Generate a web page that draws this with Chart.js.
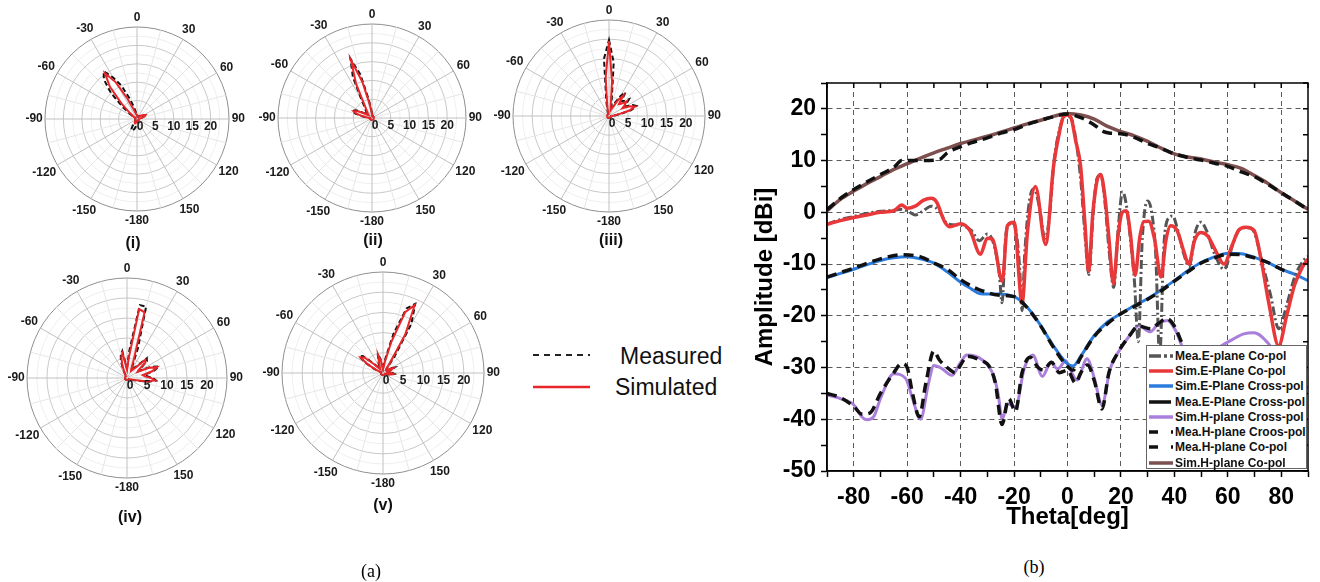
<!DOCTYPE html>
<html><head><meta charset="utf-8">
<script src="https://cdn.jsdelivr.net/npm/chart.js@4.4.1/dist/chart.umd.min.js"></script>
<style>
body{margin:0;width:1320px;height:582px;background:#fff;position:relative;overflow:hidden;font-family:"Liberation Sans",Arial,sans-serif}
canvas{position:absolute}
.lbl{position:absolute;font-weight:bold;font-size:16px;transform:translate(-50%,-50%);white-space:nowrap;color:#111}
.cap{position:absolute;font-family:"Liberation Serif","Times New Roman",serif;font-size:18px;transform:translate(-50%,-50%)}
.leg{position:absolute;font-size:23px;color:#111;transform:translateY(-50%);white-space:nowrap}
#legB{position:absolute;left:1146px;top:345px;width:161px;height:124px;border:1px solid #666;background:#fff;padding-top:2px;box-sizing:border-box}
#legB .row{height:15.3px;display:flex;align-items:center;font-weight:bold;font-size:12px;color:#111;white-space:nowrap}
#legB svg{flex:none;margin-left:1px;margin-right:1px}
</style></head>
<body>
<canvas id="p1"></canvas><canvas id="p2"></canvas><canvas id="p3"></canvas><canvas id="p4"></canvas><canvas id="p5"></canvas>
<canvas id="cb" width="580" height="480" style="left:740px;top:60px;width:580px;height:480px"></canvas>
<div class="lbl" style="left:133px;top:243px">(i)</div>
<div class="lbl" style="left:373px;top:240px">(ii)</div>
<div class="lbl" style="left:611px;top:240px">(iii)</div>
<div class="lbl" style="left:130px;top:517px">(iv)</div>
<div class="lbl" style="left:383px;top:505px">(v)</div>
<svg style="position:absolute;left:528px;top:340px" width="70" height="60"><line x1="5" y1="15" x2="62" y2="15" stroke="#222" stroke-width="2" stroke-dasharray="6,5"/><line x1="5" y1="47" x2="62" y2="47" stroke="#e8262a" stroke-width="2.5"/></svg>
<div class="leg" style="left:620px;top:356px">Measured</div>
<div class="leg" style="left:615px;top:387px">Simulated</div>
<div class="cap" style="left:371px;top:571px">(a)</div>
<div class="cap" style="left:1034px;top:567px">(b)</div>
<div id="legB"></div>
<script>
// ---------- Polar pattern data (angle labels 0..180, -175..-5) ----------
const polarAngles = [0,5,10,15,20,25,30,35,40,45,50,55,60,65,70,75,80,85,90,95,100,105,110,115,120,125,130,135,140,145,150,155,160,165,170,175,180,
  -175,-170,-165,-160,-155,-150,-145,-140,-135,-130,-125,-120,-115,-110,-105,-100,-95,-90,-85,-80,-75,-70,-65,-60,-55,-50,-45,-40,-35,-30,-25,-20,-15,-10,-5];
const angleTickLabels = [0,30,60,90,120,150,-180,-150,-120,-90,-60,-30];
const radialTickLabels = [0,5,10,15,20];

const simI = [1,0.8,0.7,0.7,0.7,0.7,0.8,0.9,1,1.2,1.5,1.8,2.2,2.6,2.3,1.5,0.9,0.6,0.5,0.5,0.5,0.5,0.5,0.5,0.5,0.5,0.5,0.5,0.5,0.5,0.5,0.5,0.5,0.5,0.5,0.5,0.5,
  0.6,0.8,1,1.2,1.3,1.2,0.9,0.6,0.5,0.5,0.5,0.5,0.5,0.5,0.5,0.5,0.5,0.5,0.5,0.5,0.5,0.5,0.5,0.5,1,2.5,6,11.5,15.2,11.5,6,3,1.8,1.3,1.1];
const meaI = [1.2,1,0.8,0.7,0.7,0.7,0.8,0.9,1,1.2,1.5,1.8,2,2.2,2,1.4,0.9,0.6,0.5,0.5,0.5,0.5,0.5,0.5,0.5,0.5,0.5,0.5,0.5,0.5,0.5,0.5,0.5,0.5,0.5,0.5,0.5,
  1.5,2.2,2.8,3.2,3.5,3,1.8,0.8,0.5,0.5,0.5,0.5,0.5,0.5,0.5,0.5,0.5,0.5,0.5,0.5,0.5,0.5,0.5,0.5,2,5,10,14,15.8,13,10,6,3.5,2,1.4];
const simII = [1,0.7,0.5,0.5,0.5,0.5,0.5,0.5,0.5,0.5,0.5,0.5,0.5,0.5,0.5,0.5,0.5,0.5,0.5,0.5,0.5,0.5,0.5,0.5,0.5,0.5,0.5,0.5,0.5,0.5,0.5,0.5,0.5,0.5,0.5,0.5,0.5,
  0.5,0.5,0.5,0.5,0.5,0.5,0.5,0.5,0.5,0.5,0.5,0.5,0.5,0.5,0.5,0.5,0.5,0.5,1,2.2,4.2,5.2,4.2,2.5,1.5,1.2,1.5,2,2.5,4,10,16.4,10,4,1.8];
const meaII = [1.3,0.9,0.6,0.5,0.5,0.5,0.5,0.5,0.5,0.5,0.5,0.5,0.5,0.5,0.5,0.5,0.5,0.5,0.5,0.5,0.5,0.5,0.5,0.5,0.5,0.5,0.5,0.5,0.5,0.5,0.5,0.5,0.5,0.5,0.5,0.5,0.5,
  0.5,0.5,0.5,0.5,0.5,0.5,0.5,0.5,0.5,0.5,0.5,0.5,0.5,0.5,0.5,0.5,0.5,0.5,1.2,2.8,4.6,5.6,4.8,3,2,1.5,2,2.5,3.2,5.5,12,16.8,12,5,2.2];
const simIII = [19.5,9,2.5,1.5,2,3,5,6.5,4,4.5,6,5,4,6,7.2,5.5,2.5,1.2,0.8,0.5,0.5,0.5,0.5,0.5,0.5,0.5,0.5,0.5,0.5,0.5,0.5,0.5,0.5,0.5,0.5,0.5,0.5,
  0.5,0.5,0.5,0.5,0.5,0.5,0.5,0.5,0.5,0.5,0.5,0.5,0.5,0.5,0.5,0.5,0.5,0.5,0.5,0.5,0.5,0.5,0.5,0.5,0.5,0.5,0.5,0.5,0.5,0.5,0.5,0.5,1,2.5,10];
const meaIII = [19.8,14,4,2.5,3,4,6,7.5,5,5.5,6.8,5.5,5,6.8,7.6,6,3,1.5,1,0.5,0.5,0.5,0.5,0.5,0.5,0.5,0.5,0.5,0.5,0.5,0.5,0.5,0.5,0.5,0.5,0.5,0.5,
  0.5,0.5,0.5,0.5,0.5,0.5,0.5,0.5,0.5,0.5,0.5,0.5,0.5,0.5,0.5,0.5,0.5,0.5,0.5,0.5,0.5,0.5,0.5,0.5,0.5,0.5,0.5,0.5,0.5,0.5,0.5,0.8,1.5,4,15];
const simIV = [2,5,17.5,17,5,2.5,2,2.5,3.5,6.5,6,3.5,3,6,8,6.5,4,4.5,6,7,5,2,1,0.5,0.5,0.5,0.5,0.5,0.5,0.5,0.5,0.5,0.5,0.5,0.5,0.5,0.5,
  0.5,0.5,0.5,0.5,0.5,0.5,0.5,0.5,0.5,0.5,0.5,0.5,0.5,0.5,0.5,0.5,0.5,0.5,0.5,0.5,0.5,0.5,0.5,0.5,0.5,0.5,0.5,0.5,0.5,0.5,1.5,3.5,5.5,6.3,3];
const meaIV = [2.5,7,18.5,18.5,8,3,2.5,3,4,7,6.5,4,3.5,6.5,8.5,7,4.5,5,6.5,7.3,5.5,2.5,1.2,0.5,0.5,0.5,0.5,0.5,0.5,0.5,0.5,0.5,0.5,0.5,0.5,0.5,0.5,
  0.5,0.5,0.5,0.5,0.5,0.5,0.5,0.5,0.5,0.5,0.5,0.5,0.5,0.5,0.5,0.5,0.5,0.5,0.5,0.5,0.5,0.5,0.5,0.5,0.5,0.5,0.5,0.5,0.5,0.5,2,4.5,6,6.8,3.5];
const simV = [1,1.5,3,8,16,18.5,11,3,1.2,1,1,1.5,2.2,2.8,2,1,1,1.5,2,2.5,2,1.2,0.6,0.5,0.5,0.5,0.5,0.5,0.5,0.5,0.5,0.5,0.5,0.5,0.5,0.5,0.5,
  0.5,0.5,0.5,0.5,0.5,0.5,0.5,0.5,0.5,0.5,0.5,0.5,0.5,0.5,0.5,0.5,0.5,0.5,0.5,0.5,0.5,0.5,2,4.5,6.8,6,3,1.5,1.2,1.5,2,3,4.7,3,1.5];
const meaV = [1.2,2,4,10,17,18.9,14,5,1.5,1.2,1.2,1.8,2.5,3.2,2.3,1.2,1.2,1.8,2.3,2.8,2.2,1.5,0.8,0.5,0.5,0.5,0.5,0.5,0.5,0.5,0.5,0.5,0.5,0.5,0.5,0.5,0.5,
  0.5,0.5,0.5,0.5,0.5,0.5,0.5,0.5,0.5,0.5,0.5,0.5,0.5,0.5,0.5,0.5,0.5,0.5,0.5,0.5,0.5,0.5,2.5,5,7.2,6.5,3.5,1.8,1.5,1.8,2.5,3.5,5,3.5,1.8];

// ---------- Panel (b) data ----------
const seriesNames = ['Mea.E-plane Co-pol','Sim.E-Plane Co-pol','Sim.E-Plane Cross-pol','Mea.E-Plane Cross-pol','Sim.H-plane Cross-pol','Mea.H-plane Croos-pol','Mea.H-plane Co-pol','Sim.H-plane Co-pol'];
const eCoMeaTheta = [-90,-85,-80,-75,-70,-65,-62,-59,-57,-54,-51,-48,-45,-40,-36,-33,-30,-28,-25.5,-24.5,-23,-21,-19.5,-18,-17,-16,-14,-12.5,-10.5,-8.5,-7,-5,-3,-1,1,3,5,6.5,8,9.5,11,12.5,14,15.5,17.3,19,20.6,22,23.5,25,26.5,28,30,31.5,33,34.5,36,38,39.4,41,43.5,45.5,48,50,52,55,58.6,62,65,68,70,73,76,79,82,85,88,90];
const eCoMeaAmp = [-2.3,-1.4,-0.8,-0.2,0.2,0.4,0.6,0,-0.5,0.3,1.2,0.3,-2.2,-2.5,-3.5,-5.5,-4.2,-5.5,-12,-17.5,-4,-2,-3,-10,-19,-8,3,4.5,1,-5,-2,10,16,18.5,18.5,14.5,6,-4,-12,-1,6.5,7.2,2,-7,-14.5,-3,4,1.5,-5,-13,-25,-5,2.2,0,-8,-28,-7,-1,-0.7,-3,-8,-10.5,-3.5,-1.9,-3.5,-8,-11,-6,-3,-3,-4,-10,-16,-22.5,-18,-12.5,-9.5,-8.5];
const eCoSimTheta = [-90,-85,-80,-75,-70,-65,-62,-60,-57,-54,-51,-49,-46,-44,-40,-36.4,-32.6,-30,-28,-24.4,-22.5,-20,-17,-15,-12,-8.2,-5.2,-3,-1.5,0,1.5,3,4.9,6.5,7.9,9.5,11,12.4,14,15.5,17.2,18.8,20.5,22,23.5,25.3,27,28.5,30.4,32.5,35,36.8,38.6,41,43.5,45.4,47.5,49.9,52.5,55.5,58.6,61.5,64,66.7,69.8,72.4,75.5,79,82,85,88,90];
const eCoSimAmp = [-2.3,-1.6,-1,-0.5,0,0.3,1.4,0.8,1.2,2.3,2.7,2,-1.8,-2.8,-2.2,-3.6,-8.1,-5,-5.2,-13.3,-2.6,-1.9,-17.5,-3.9,5,-6.2,9,15.5,18.5,18.8,18,14,8.9,-2,-11.3,0,6,7.3,3,-5,-13.8,-5,0,0.3,-4,-12.2,-5,-1.8,-1.7,-5,-12.5,-5.5,-2.6,-3.5,-7.5,-10,-5.5,-3.9,-4.6,-7.5,-10,-6.5,-3.5,-2.9,-3.5,-9,-18,-25.8,-20,-14,-10.5,-9];
const eCrossSimTheta = [-90,-85,-80,-75,-70,-65,-60,-55,-50,-45,-40,-36,-33,-30,-25,-20,-17,-14,-10,-5,0,2,5,10,15,20,25,30,35,40,45,50,55,60,65,70,75,80,85,90];
const eCrossSimAmp = [-12.6,-11.8,-11,-10.1,-9.3,-8.8,-8.6,-9,-9.8,-11.5,-13.5,-14.8,-15.7,-15.8,-15.8,-16.3,-17.3,-19,-21.9,-26,-29.3,-29.7,-27.8,-23.8,-21.2,-19.6,-18,-16.7,-15,-13.2,-11.3,-9.7,-8.6,-7.9,-8,-8.7,-9.7,-11,-12,-13.2];
const eCrossMeaTheta = [-90,-80,-70,-62,-55,-50,-45,-40,-35,-30,-26,-20,-15,-10,-5,0,2,5,10,15,20,25,30,35,40,45,50,55,60,65,70,75,80,82];
const eCrossMeaAmp = [-12.5,-10.8,-9,-8.2,-8.6,-9.8,-11,-13,-14.5,-15.5,-16,-16.3,-18.5,-22,-26.3,-29.8,-30.5,-28,-24,-21.5,-19.6,-18.2,-16.8,-15.2,-13.3,-11.5,-9.8,-8.8,-8.1,-8.2,-8.8,-9.7,-11,-11.5];
const hCrossSimTheta = [-90,-85,-80,-77,-75,-72.5,-70,-65,-60.6,-58,-55,-52,-50,-47,-43.3,-40,-37.7,-32,-27.7,-26,-24.4,-22.5,-19.4,-16.2,-13,-9.4,-6.2,-3.7,-0.6,0.5,3.6,7.3,10,12.9,16,19.9,23,26.6,31,34,37.4,40.5,43,47,52,57,62,66,69.8,75.4,80,85,90];
const hCrossSimAmp = [-35.3,-36,-37.2,-39.5,-40.1,-39.5,-36,-31.2,-32.1,-36,-40,-33,-29.6,-30.2,-31.5,-29,-27.6,-28.5,-31.5,-35,-40,-37,-37.6,-30.2,-27.6,-31.7,-29,-30.3,-28.7,-29.8,-32.4,-28.3,-32,-37.2,-30.2,-26.3,-24,-21.9,-23.1,-21.5,-20.9,-22.9,-26,-29,-28,-26,-24.5,-23.5,-23.3,-25.5,-29,-32,-34];
const hCrossMeaTheta = [-90,-85,-80,-77,-74,-70,-65,-62,-60,-58,-55.5,-53,-50,-48,-45,-42,-40,-37.5,-33,-29,-27,-24.5,-22,-19.5,-17,-14,-11,-9,-6,-3,0,3,5,7.5,10,12.9,15.5,19,23,26.6,31,34,37,40,43];
const hCrossMeaAmp = [-35,-35.8,-37.5,-39,-38.8,-35,-31,-29.2,-30,-35,-39.5,-33,-26.8,-28.5,-30,-31,-29.5,-27.8,-28.5,-30,-33,-41,-36,-38.5,-31,-28,-30,-30.5,-29,-31,-30.5,-33,-31,-29.5,-32.5,-38,-31,-27,-24,-22,-22.5,-21.5,-20.5,-22,-25.5];
const hCoMeaTheta = [-90,-85,-80,-75,-70,-65,-62,-55,-48,-45,-40,-35,-30,-25,-20,-15,-10,-5,0,5,10,13.5,16,20,25,30,35,40,45,50,55,60,65,70,75,80,85,90];
const hCoMeaAmp = [0.5,2.7,4.4,5.9,7.3,8.7,10,10,10.2,11.5,12.7,13.6,14.4,15.3,16,17,17.8,18.5,19,18.3,16.9,15.6,15.3,15.2,14.5,13.3,12.4,11.3,10.6,10.1,9.5,8.9,7.8,6.9,5.4,3.8,2.2,0.5];
const hCoSimTheta = [-90,-85,-80,-75,-70,-65,-60,-55,-50,-45,-40,-35,-30,-25,-20,-15,-10,-5,0,5,10,15,20,25,30,35,40,45,50,55,60,65,70,75,80,85,90];
const hCoSimAmp = [0.3,2.5,4.1,5.6,6.9,8.3,9.4,10.5,11.5,12.4,13.3,14,14.7,15.5,16.3,17.1,17.8,18.6,19.1,18.8,18,16.6,15.6,14.8,13.7,12.4,11.3,10.7,10.3,9.7,9.2,8.5,7.1,5.6,3.8,2.2,0.6];

const FONT = '"Liberation Sans", Arial, sans-serif';
Chart.defaults.font.family = FONT;

// ---------- Polar plots ----------
const polarDecor = {
  id: 'polarDecor',
  afterDraw(chart, args, opts) {
    const s = chart.scales.r, ctx = chart.ctx;
    ctx.save();
    ctx.font = 'bold ' + opts.size + 'px ' + FONT;
    ctx.fillStyle = '#1a1a1a';
    ctx.textAlign = 'center'; ctx.textBaseline = 'middle';
    angleTickLabels.forEach(a => {
      const idx = polarAngles.indexOf(a === -180 ? 180 : a);
      const txt = String(a);
      const w = ctx.measureText(txt).width, h = 14;
      const ang = a * Math.PI / 180;
      const ext = Math.abs(Math.sin(ang)) * w / 2 + Math.abs(Math.cos(ang)) * h / 2;
      const p = s.getPointPosition(idx, s.drawingArea + 4 + 0.8 * ext);
      ctx.fillText(txt, p.x, p.y);
    });
    radialTickLabels.forEach(v => {
      const d = s.getDistanceFromCenterForValue(v);
      ctx.fillText(String(v), s.xCenter + d + (v === 0 ? 3 : 0), s.yCenter + 8);
    });
    ctx.restore();
  }
};

function makePolar(id, cx, cy, r, sim, mea, fontSize) {
  const S = 260;
  const cv = document.getElementById(id);
  cv.width = S; cv.height = S;
  cv.style.left = (cx - S / 2) + 'px'; cv.style.top = (cy - S / 2) + 'px';
  cv.style.width = S + 'px'; cv.style.height = S + 'px';
  new Chart(cv, {
    type: 'radar',
    data: { labels: polarAngles, datasets: [
      { label: 'Simulated', data: sim, borderColor: '#e8262a', borderWidth: 2, fill: false, pointRadius: 0 },
      { label: 'Measured', data: mea, borderColor: '#111', borderWidth: 2, borderDash: [5, 3], fill: false, pointRadius: 0 }
    ]},
    options: {
      responsive: false, animation: false,
      layout: { padding: S / 2 - r },
      plugins: { legend: { display: false }, tooltip: { enabled: false }, polarDecor: { size: fontSize } },
      elements: { line: { tension: 0 } },
      scales: { r: {
        min: 0, max: 25, startAngle: 0,
        ticks: { display: false, stepSize: 2.5 },
        pointLabels: { display: false },
        grid: { circular: true, lineWidth: 1,
          color: c => c.tick && c.tick.value === 25 ? '#8f8f8f' : (c.tick && c.tick.value % 5 === 0 ? '#c8c8c8' : '#eeeeee') },
        angleLines: { display: true,
          color: c => (c.index % 6 === 0 ? '#c0c0c0' : '#e6e6e6'),
          lineWidth: c => (c.index % 3 === 0 ? 1 : 0) }
      }}
    },
    plugins: [polarDecor]
  });
}
makePolar('p1', 137, 119, 92, simI, meaI, 12);
makePolar('p2', 372, 118, 94, simII, meaII, 12);
makePolar('p3', 609, 116, 96, simIII, meaIII, 12);
makePolar('p4', 127, 378, 100, simIV, meaIV, 12);
makePolar('p5', 383, 373, 101, simV, meaV, 12);

// ---------- Panel (b) ----------
const pts = (t, a) => t.map((x, i) => ({ x: x, y: a[i] }));
const bData = [
  { t: eCoMeaTheta, a: eCoMeaAmp },
  { t: eCoSimTheta, a: eCoSimAmp },
  { t: eCrossSimTheta, a: eCrossSimAmp },
  { t: eCrossMeaTheta, a: eCrossMeaAmp },
  { t: hCrossSimTheta, a: hCrossSimAmp },
  { t: hCrossMeaTheta, a: hCrossMeaAmp },
  { t: hCoMeaTheta, a: hCoMeaAmp },
  { t: hCoSimTheta, a: hCoSimAmp }
];
const bStyle = [
  { c: '#555555', d: [9, 3, 2, 3], w: 3, o: 3, ld: '12,3,3,3' },
  { c: '#e8383a', d: [], w: 3.5, o: 2, ld: '' },
  { c: '#2a7bdc', d: [], w: 3, o: 5, ld: '' },
  { c: '#111111', d: [10, 6], w: 3.5, o: 1, ld: '22,2' },
  { c: '#a97fdb', d: [], w: 3, o: 6, ld: '' },
  { c: '#111111', d: [10, 6], w: 3.5, o: 1, ld: '9,13,3,10' },
  { c: '#111111', d: [10, 6], w: 3.5, o: 1, ld: '9,13,3,10' },
  { c: '#7d4f4f', d: [], w: 3.5, o: 4, ld: '' }
];
const frame = {
  id: 'frame',
  afterDatasetsDraw(chart) {
    const { ctx, chartArea: a, scales: { x, y } } = chart;
    ctx.save();
    ctx.strokeStyle = '#000'; ctx.lineWidth = 1.5;
    ctx.strokeRect(a.left, a.top, a.right - a.left, a.bottom - a.top);
    ctx.beginPath();
    x.ticks.forEach(t => { const px = x.getPixelForValue(t.value); ctx.moveTo(px, a.top); ctx.lineTo(px, a.top + 5); });
    y.ticks.forEach(t => { const py = y.getPixelForValue(t.value); ctx.moveTo(a.right, py); ctx.lineTo(a.right - 5, py); });
    ctx.stroke();
    ctx.restore();
  }
};
const tickFont = { family: FONT, size: 23, weight: 'bold' };
new Chart(document.getElementById('cb'), {
  type: 'line',
  data: { datasets: bData.map((s, i) => ({
    label: seriesNames[i], data: pts(s.t, s.a), borderColor: bStyle[i].c, borderWidth: bStyle[i].w,
    borderDash: bStyle[i].d, order: bStyle[i].o, pointRadius: 0, fill: false, cubicInterpolationMode: 'monotone'
  })) },
  options: {
    responsive: false, animation: false,
    layout: { padding: { top: 23, right: 12, left: 0, bottom: 0 } },
    plugins: { legend: { display: false }, tooltip: { enabled: false } },
    scales: {
      x: { type: 'linear', min: -90, max: 90,
        ticks: { stepSize: 10, autoSkip: false, maxRotation: 0, color: '#000', font: tickFont, padding: 7,
          callback: v => (v % 20 === 0 && Math.abs(v) < 90) ? String(v) : '' },
        grid: { color: c => (c.tick && c.tick.value % 20 === 0 && Math.abs(c.tick.value) < 90) ? '#5a5a5a' : 'rgba(0,0,0,0)',
          lineWidth: 1, tickColor: '#000', tickWidth: 1.5, tickLength: 6 },
        border: { display: true, color: '#000', width: 1.5, dash: [5, 4] },
        title: { display: true, text: 'Theta[deg]', color: '#000', font: { family: FONT, size: 24, weight: 'bold' }, padding: { top: 0, bottom: 8 } },
        afterFit: s => { s.height = 69; }
      },
      y: { min: -50, max: 25,
        ticks: { stepSize: 5, autoSkip: false, color: '#000', font: tickFont, padding: 5,
          callback: v => (v % 10 === 0 && v < 25) ? String(v) : '' },
        grid: { color: c => (c.tick && c.tick.value % 10 === 0 && c.tick.value > -50 && c.tick.value < 25) ? '#5a5a5a' : 'rgba(0,0,0,0)',
          lineWidth: 1, tickColor: '#000', tickWidth: 1.5, tickLength: 6 },
        border: { display: true, color: '#000', width: 1.5, dash: [5, 4] },
        title: { display: true, text: 'Amplitude [dBi]', color: '#000', font: { family: FONT, size: 24, weight: 'bold' }, padding: { top: 11, bottom: 0 } },
        afterFit: s => { s.width = 87; }
      }
    }
  },
  plugins: [frame]
});
// HTML legend for panel (b)
const leg = document.getElementById('legB');
seriesNames.forEach((n, i) => {
  const row = document.createElement('div'); row.className = 'row';
  row.innerHTML = '<svg width="26" height="10"><line x1="1" y1="5" x2="25" y2="5" stroke="' + bStyle[i].c +
    '" stroke-width="3.5"' + (bStyle[i].ld ? ' stroke-dasharray="' + bStyle[i].ld + '"' : '') + '/></svg><span>' + n + '</span>';
  leg.appendChild(row);
});
</script>
</body></html>
